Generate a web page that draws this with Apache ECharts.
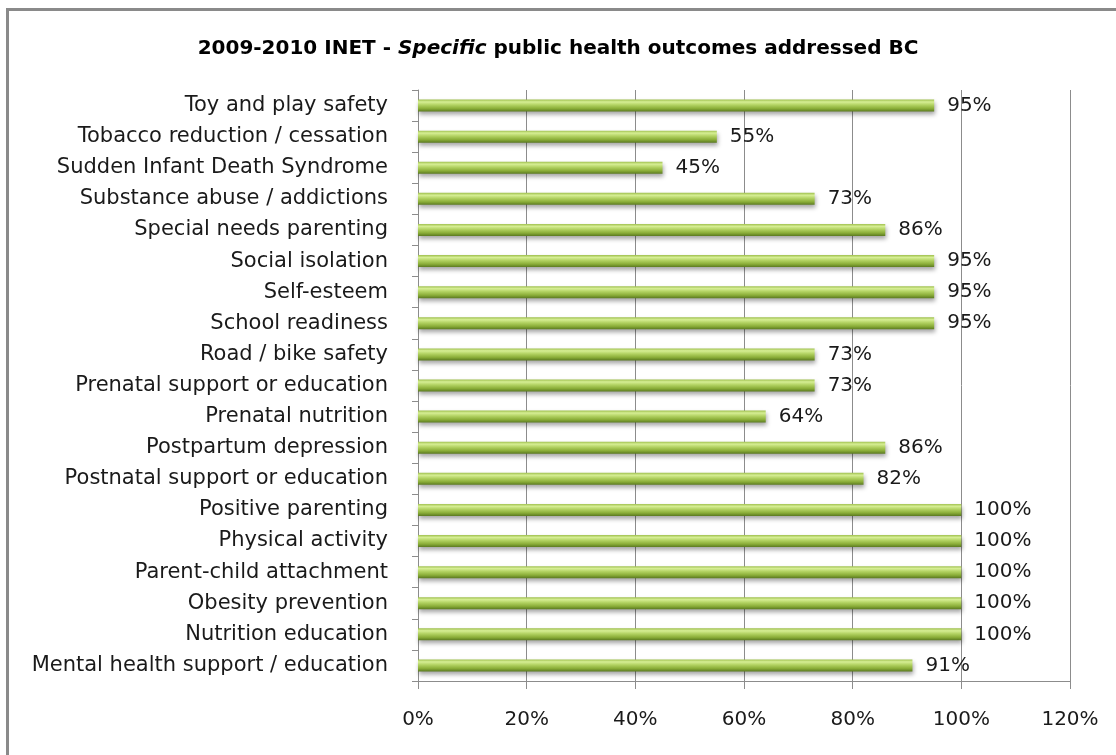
<!DOCTYPE html>
<html>
<head>
<meta charset="utf-8">
<script src="https://cdn.jsdelivr.net/npm/echarts@6/dist/echarts.min.js"></script>
<style>
  html, body { margin: 0; padding: 0; background: #fff; }
  #chart { width: 1116px; height: 755px; }
</style>
</head>
<body>
<div id="chart"></div>
<script>
// Outcomes, listed bottom to top along the category axis
const outcomes = [
  'Mental health support / education',
  'Nutrition education',
  'Obesity prevention',
  'Parent-child attachment',
  'Physical activity',
  'Positive parenting',
  'Postnatal support or education',
  'Postpartum depression',
  'Prenatal nutrition',
  'Prenatal support or education',
  'Road / bike safety',
  'School readiness',
  'Self-esteem',
  'Social isolation',
  'Special needs parenting',
  'Substance abuse / addictions',
  'Sudden Infant Death Syndrome',
  'Tobacco reduction / cessation',
  'Toy and play safety'
];
// Share of programs addressing each outcome (%)
const shares = [91, 100, 100, 100, 100, 100, 82, 86, 64, 73, 73, 95, 95, 95, 86, 73, 45, 55, 95];
const axisMax = 120;
const axisStep = 20;

const font = "'DejaVu Sans', 'Noto Sans', sans-serif";

const chart = echarts.init(document.getElementById('chart'), null, { renderer: 'canvas' });

chart.setOption({
  animation: false,
  backgroundColor: '#ffffff',
  title: {
    text: '2009-2010 INET - {i|Specific} public health outcomes addressed BC',
    left: 'center',
    top: 34,
    textStyle: {
      fontFamily: font,
      fontSize: 20,
      fontWeight: 'bold',
      color: '#000',
      rich: {
        i: { fontFamily: font, fontSize: 20, fontWeight: 'bold', fontStyle: 'italic', color: '#000' }
      }
    }
  },
  graphic: [
    { type: 'rect', shape: { x: 6, y: 8, width: 3, height: 760 }, style: { fill: '#8a8a8a' }, silent: true },
    { type: 'rect', shape: { x: 6, y: 8, width: 1120, height: 3 }, style: { fill: '#8a8a8a' }, silent: true }
  ],
  grid: { left: 418, right: 46, top: 90, bottom: 74, containLabel: false },
  xAxis: {
    type: 'value',
    min: 0,
    max: axisMax,
    interval: axisStep,
    axisLine: { show: true, lineStyle: { color: '#8c8c8c', width: 1 } },
    axisTick: { show: true, length: 8, lineStyle: { color: '#8c8c8c' } },
    splitLine: { show: true, lineStyle: { color: '#8c8c8c', width: 1 } },
    axisLabel: {
      formatter: '{value}%',
      margin: 29,
      fontFamily: font,
      fontSize: 20,
      color: '#1a1a1a'
    }
  },
  yAxis: {
    type: 'category',
    data: outcomes,
    axisLine: { show: true, lineStyle: { color: '#8c8c8c', width: 1 } },
    axisTick: { show: true, length: 6, inside: false, alignWithLabel: false, lineStyle: { color: '#8c8c8c' } },
    axisLabel: {
      margin: 30,
      fontFamily: font,
      fontSize: 21,
      color: '#1a1a1a'
    }
  },
  series: [{
    type: 'bar',
    data: shares,
    barWidth: 12,
    itemStyle: {
      color: new echarts.graphic.LinearGradient(0, 0, 0, 1, [
        { offset: 0, color: '#9fc04e' },
        { offset: 0.2, color: '#d6ee94' },
        { offset: 0.45, color: '#b2d262' },
        { offset: 0.75, color: '#8aad38' },
        { offset: 1, color: '#5b7a20' }
      ]),
      shadowColor: 'rgba(0,0,0,0.35)',
      shadowBlur: 4,
      shadowOffsetX: 1,
      shadowOffsetY: 3
    },
    label: {
      show: true,
      position: 'right',
      distance: 13,
      formatter: '{c}%',
      fontFamily: font,
      fontSize: 20,
      color: '#1a1a1a'
    }
  }]
});
</script>
</body>
</html>
